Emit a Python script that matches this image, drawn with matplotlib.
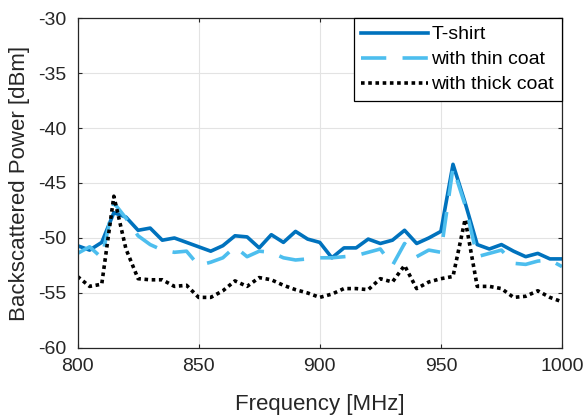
import numpy as np
import matplotlib
matplotlib.use("Agg")
import matplotlib.pyplot as plt

plt.rcParams['font.family'] = ['Liberation Sans', 'DejaVu Sans']
plt.rcParams['axes.unicode_minus'] = False

freq = list(range(800, 1001, 5))

tshirt = [-50.7, -51.1, -50.4, -47.7, -48.1, -49.3, -49.1, -50.2, -50.0, -50.4,
          -50.8, -51.2, -50.7, -49.8, -49.9, -50.9, -49.7, -50.4, -49.4, -50.1,
          -50.4, -51.8, -50.9, -50.9, -50.1, -50.5, -50.2, -49.3, -50.5, -50.0,
          -49.4, -43.3, -46.8, -50.6, -51.0, -50.6, -51.2, -51.7, -51.4, -51.9,
          -51.9]

thin_coat = [-51.4, -50.8, -51.8, -46.8, -48.2, -49.8, -50.6, -51.1, -51.3, -51.2,
             -52.5, -52.2, -51.8, -50.8, -51.7, -51.2, -51.3, -51.8, -52.0, -51.9,
             -51.8, -51.8, -51.7, -51.6, -51.3, -51.0, -52.5, -50.5, -51.7, -51.1,
             -51.3, -43.6, -47.0, -51.7, -51.4, -51.1, -52.3, -52.4, -52.1, -52.0,
             -52.6]

thick_coat = [-53.5, -54.4, -54.2, -46.2, -51.0, -53.7, -53.8, -53.8, -54.4, -54.3,
              -55.4, -55.4, -54.8, -53.9, -54.4, -53.6, -53.8, -54.3, -54.7, -55.0,
              -55.4, -55.1, -54.6, -54.6, -54.7, -53.7, -54.0, -52.5, -54.6, -54.0,
              -53.7, -53.5, -48.3, -54.4, -54.4, -54.6, -55.4, -55.3, -54.8, -55.4,
              -55.8]

labels = ["T-shirt", "with thin coat", "with thick coat"]
xticks = [800, 850, 900, 950, 1000]
yticks = [-60, -55, -50, -45, -40, -35, -30]

fig = plt.figure(figsize=(5.85, 4.19), dpi=100)
ax = fig.add_axes([0.1325, 0.1695, 0.8282, 0.7875])

ax.plot(freq, tshirt, color='#0072BD', lw=2.6, label=labels[0])
ax.plot(freq, thin_coat, color='#4DBEEE', lw=2.6, dashes=(7, 4.5), label=labels[1])
ax.plot(freq, thick_coat, color='black', lw=2.6, dashes=(1, 1), label=labels[2])

ax.set_xlim(800, 1000)
ax.set_ylim(-60, -30)
ax.set_xticks(xticks)
ax.set_yticks(yticks)
ax.tick_params(direction='in', length=3, width=0.8, top=True, right=True,
               labelsize=14, colors='#262626')
ax.tick_params(axis='x', pad=7)
ax.tick_params(axis='y', pad=8)
ax.grid(True, color='#e3e3e3', lw=0.8)
ax.set_axisbelow(True)
for s in ax.spines.values():
    s.set_color('#262626')
    s.set_linewidth(0.9)

ax.set_xlabel('Frequency [MHz]', fontsize=16, color='#262626', labelpad=14)
ax.set_ylabel('Backscattered Power [dBm]', fontsize=16, color='#262626', labelpad=6)

leg = ax.legend(loc='upper right', fontsize=14, borderaxespad=0, handlelength=3.4,
                handletextpad=0.2, labelspacing=0.38, fancybox=False,
                framealpha=1, edgecolor='black', borderpad=0.4)
leg.get_frame().set_linewidth(0.9)

fig.savefig('out.png', dpi=100)
